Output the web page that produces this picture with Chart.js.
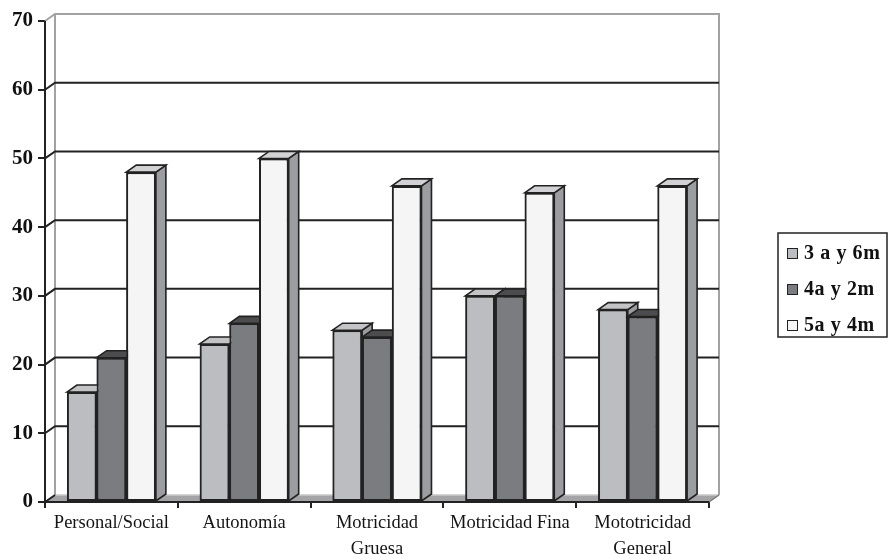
<!DOCTYPE html>
<html>
<head>
<meta charset="utf-8">
<script src="https://cdn.jsdelivr.net/npm/chart.js@4/dist/chart.umd.min.js"></script>
<style>
  html, body { margin: 0; padding: 0; background: #ffffff; }
  #wrap { width: 889px; height: 559px; }
</style>
</head>
<body>
<div id="wrap"><canvas id="c" width="889" height="559"></canvas></div>
<script>
// Areas evaluated, one entry per group of bars
const categories = [['Personal/Social'], ['Autonomía'], ['Motricidad', 'Gruesa'], ['Motricidad Fina'], ['Mototricidad', 'General']];
// Age groups
const seriesNames = ['3 a y 6m', '4a y 2m', '5a y 4m'];
const age3y6m = [16, 23, 25, 30, 28];
const age4y2m = [21, 26, 24, 30, 27];
const age5y4m = [48, 50, 46, 45, 46];
// Value axis
const yMin = 0;
const yMax = 70;
const yStep = 10;

// Face colours for the extruded bars: front, top, side
const frontColors = ['#bcbdc1', '#7b7c80', '#f5f5f5'];
const topColors = ['#c4c4c6', '#4c4c4e', '#d2d2d4'];
const sideColors = ['#9c9da1', '#5c5d60', '#9c9da1'];

const DEPTH_X = 10;
const DEPTH_Y = -7;
const LINE = '#222222';
const WALL = '#a2a2a2';

const seriesValues = [age3y6m, age4y2m, age5y4m];

const threeD = {
  id: 'threeD',
  beforeDatasetsDraw(chart) {
    const ctx = chart.ctx;
    const { left: L, right: R, top: T, bottom: B } = chart.chartArea;
    const y = chart.scales.y;
    ctx.save();
    // floor
    ctx.fillStyle = '#a4a4a6';
    ctx.beginPath();
    ctx.moveTo(L, B);
    ctx.lineTo(R, B);
    ctx.lineTo(R + DEPTH_X, B + DEPTH_Y);
    ctx.lineTo(L + DEPTH_X, B + DEPTH_Y);
    ctx.closePath();
    ctx.fill();
    ctx.strokeStyle = '#c8c8c8';
    ctx.lineWidth = 1.5;
    ctx.beginPath();
    ctx.moveTo(L + DEPTH_X, B + DEPTH_Y);
    ctx.lineTo(R + DEPTH_X, B + DEPTH_Y);
    ctx.stroke();
    ctx.strokeStyle = '#7a7a7a';
    ctx.beginPath();
    ctx.moveTo(R, B);
    ctx.lineTo(R + DEPTH_X, B + DEPTH_Y);
    ctx.stroke();

    // back wall frame
    ctx.strokeStyle = WALL;
    ctx.lineWidth = 2;
    ctx.beginPath();
    ctx.moveTo(L, T);
    ctx.lineTo(L + DEPTH_X, T + DEPTH_Y);
    ctx.lineTo(R + DEPTH_X, T + DEPTH_Y);
    ctx.lineTo(R + DEPTH_X, B + DEPTH_Y);
    ctx.moveTo(L + DEPTH_X, T + DEPTH_Y);
    ctx.lineTo(L + DEPTH_X, B + DEPTH_Y);
    ctx.stroke();

    // gridlines on the back wall and the side wall
    ctx.strokeStyle = LINE;
    ctx.lineWidth = 2;
    for (let v = yMin; v < yMax; v += yStep) {
      const py = y.getPixelForValue(v);
      ctx.beginPath();
      ctx.moveTo(L, py);
      ctx.lineTo(L + DEPTH_X, py + DEPTH_Y);
      if (v > yMin) ctx.lineTo(R + DEPTH_X, py + DEPTH_Y);
      ctx.stroke();
    }
    ctx.restore();
  },
  afterDatasetsDraw(chart) {
    const ctx = chart.ctx;
    const { left: L, right: R, top: T, bottom: B } = chart.chartArea;
    const metas = chart.data.datasets.map((d, i) => chart.getDatasetMeta(i));
    ctx.save();
    ctx.lineJoin = 'miter';
    for (let i = 0; i < categories.length; i++) {
      metas.forEach((meta, d) => {
        const bar = meta.data[i];
        const { x, y, base, width } = bar.getProps(['x', 'y', 'base', 'width'], true);
        const x0 = x - width / 2;
        const x1 = x + width / 2;
        ctx.lineWidth = 1.6;
        ctx.strokeStyle = LINE;
        // side face
        ctx.fillStyle = sideColors[d];
        ctx.beginPath();
        ctx.moveTo(x1, y);
        ctx.lineTo(x1 + DEPTH_X, y + DEPTH_Y);
        ctx.lineTo(x1 + DEPTH_X, base + DEPTH_Y);
        ctx.lineTo(x1, base);
        ctx.closePath();
        ctx.fill();
        ctx.stroke();
        // top face
        ctx.fillStyle = topColors[d];
        ctx.beginPath();
        ctx.moveTo(x0, y);
        ctx.lineTo(x0 + DEPTH_X, y + DEPTH_Y);
        ctx.lineTo(x1 + DEPTH_X, y + DEPTH_Y);
        ctx.lineTo(x1, y);
        ctx.closePath();
        ctx.fill();
        ctx.stroke();
        // front face, drawn by the bar element itself
        bar.draw(ctx, chart.chartArea);
      });
    }
    // front axis lines
    ctx.strokeStyle = LINE;
    ctx.lineWidth = 2;
    ctx.beginPath();
    ctx.moveTo(L, T);
    ctx.lineTo(L, B);
    ctx.lineTo(R, B);
    ctx.stroke();
    ctx.restore();
  },
  afterDraw(chart) {
    const ctx = chart.ctx;
    ctx.save();
    // legend
    const bx = 778, by = 233, bw = 109, bh = 104;
    ctx.strokeStyle = LINE;
    ctx.lineWidth = 1.5;
    ctx.strokeRect(bx, by, bw, bh);
    ctx.font = 'bold 20px "Liberation Serif"';
    ctx.textBaseline = 'middle';
    ctx.textAlign = 'left';
    if ('letterSpacing' in ctx) ctx.letterSpacing = '0.6px';
    seriesNames.forEach((name, k) => {
      const cy = 253 + k * 36;
      ctx.fillStyle = frontColors[k];
      ctx.fillRect(787, cy - 5, 10, 10);
      ctx.lineWidth = 1;
      ctx.strokeStyle = LINE;
      ctx.strokeRect(787.5, cy - 4.5, 10, 10);
      ctx.fillStyle = '#111111';
      ctx.fillText(name, 804, cy + 1);
    });
    ctx.restore();
  }
};

new Chart(document.getElementById('c'), {
  type: 'bar',
  data: {
    labels: categories,
    datasets: seriesValues.map((vals, k) => ({
      label: seriesNames[k],
      data: vals,
      backgroundColor: frontColors[k],
      borderColor: LINE,
      borderWidth: 2,
      borderSkipped: false,
      categoryPercentage: 0.67,
      barPercentage: 1.0
    }))
  },
  options: {
    responsive: false,
    devicePixelRatio: 1,
    animation: false,
    events: [],
    layout: { padding: { top: 21, right: 180, bottom: 0, left: 0 } },
    plugins: {
      legend: { display: false },
      tooltip: { enabled: false }
    },
    scales: {
      x: {
        grid: { drawOnChartArea: false, drawTicks: true, tickLength: 6, color: LINE, lineWidth: 2, offset: true },
        border: { display: false },
        ticks: {
          color: '#141414',
          font: { family: '"Liberation Serif"', size: 18.5, lineHeight: 1.4 },
          padding: 2,
          maxRotation: 0,
          autoSkip: false
        },
        afterFit(scale) { scale.height = 57; scale.paddingLeft = 0; scale.paddingRight = 0; }
      },
      y: {
        min: yMin,
        max: yMax,
        grid: { drawOnChartArea: false, drawTicks: true, tickLength: 7, color: LINE, lineWidth: 2 },
        border: { display: false },
        ticks: {
          stepSize: yStep,
          color: '#111111',
          font: { family: '"Liberation Serif"', size: 21, weight: 'bold' },
          padding: 5
        },
        afterFit(scale) { scale.width = 45; scale.paddingTop = 0; scale.paddingBottom = 0; }
      }
    }
  },
  plugins: [threeD]
});
</script>
</body>
</html>
